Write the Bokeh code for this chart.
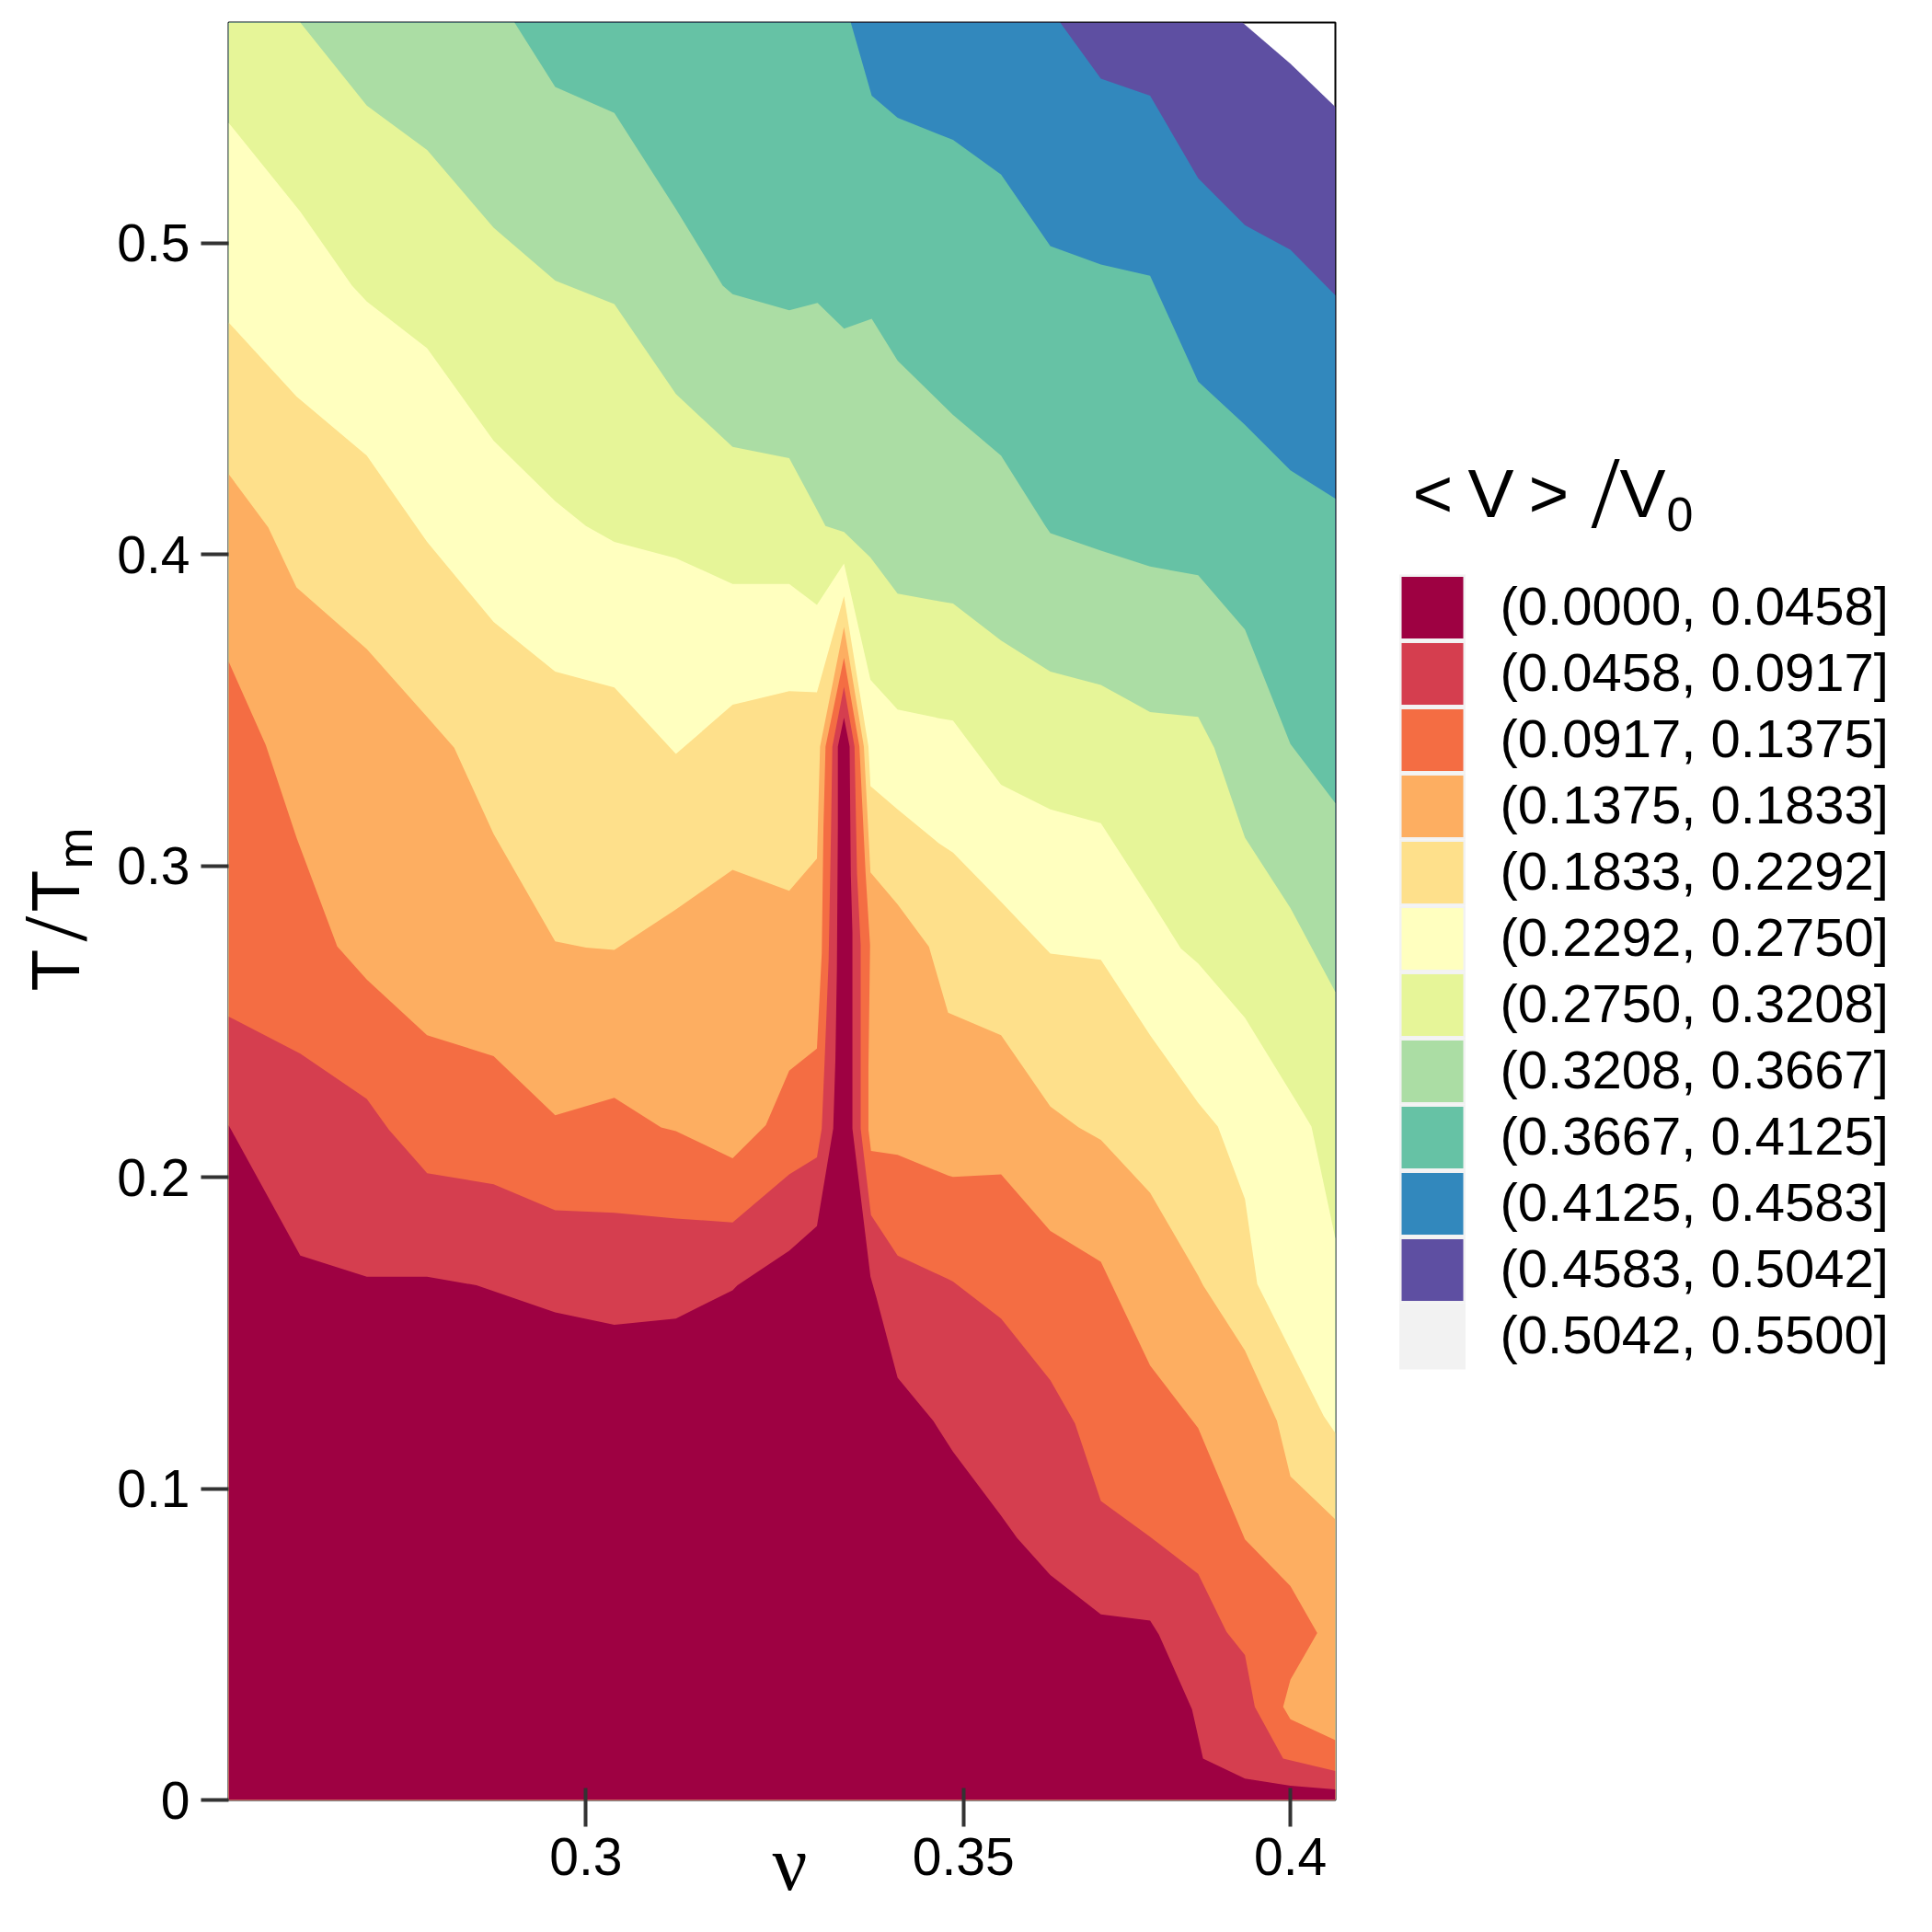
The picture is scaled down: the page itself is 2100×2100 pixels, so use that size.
import math

from bokeh.core.properties import value
from bokeh.embed import file_html
from bokeh.layouts import row
from bokeh.models import FixedTicker, Range1d
from bokeh.plotting import figure
from bokeh.resources import INLINE

# axis limits and ticks
nu_min, nu_max = 0.25926, 0.40741
t_min, t_max = 0.0, 0.5708
nu_ticks = [0.3, 0.35, 0.4]
nu_tick_labels = ["0.3", "0.35", "0.4"]
t_ticks = [0, 0.1, 0.2, 0.3, 0.4, 0.5]
t_tick_labels = ["0", "0.1", "0.2", "0.3", "0.4", "0.5"]

# contour bands
bands = ["(0.0000, 0.0458]", "(0.0458, 0.0917]", "(0.0917, 0.1375]", "(0.1375, 0.1833]",
         "(0.1833, 0.2292]", "(0.2292, 0.2750]", "(0.2750, 0.3208]", "(0.3208, 0.3667]",
         "(0.3667, 0.4125]", "(0.4125, 0.4583]", "(0.4583, 0.5042]", "(0.5042, 0.5500]"]
colors = ["#9E0142", "#D53E4F", "#F46D43", "#FDAE61", "#FEE08B", "#FFFFBF",
          "#E6F598", "#ABDDA4", "#66C2A5", "#3288BD", "#5E4FA2"]

# upper edge of every band
nu_0458 = [0.25926, 0.26696, 0.27431, 0.28115, 0.28687, 0.29625, 0.30349, 0.31122, 0.31851, 0.31915,
           0.32596, 0.32967, 0.33187, 0.33217, 0.33237, 0.33250, 0.33250, 0.33333, 0.33410, 0.33426,
           0.33448, 0.33448, 0.33448, 0.33696, 0.33778, 0.34071, 0.34572, 0.34851, 0.35542, 0.35775,
           0.36264, 0.37020, 0.37772, 0.37906, 0.38424, 0.38598, 0.39264, 0.40000, 0.40741]
t_0458 = [0.2167, 0.1748, 0.1680, 0.1680, 0.1653, 0.1566, 0.1526, 0.1546, 0.1637, 0.1653,
          0.1764, 0.1843, 0.2156, 0.2381, 0.2670, 0.3122, 0.3383, 0.3476, 0.3383, 0.2975,
          0.2785, 0.2354, 0.2156, 0.1680, 0.1613, 0.1356, 0.1217, 0.1118, 0.0913, 0.0841,
          0.0722, 0.0596, 0.0576, 0.0532, 0.0291, 0.0133, 0.0069, 0.0046, 0.0034]

nu_0917 = [0.25926, 0.26696, 0.27431, 0.27680, 0.28115, 0.28889, 0.29625, 0.30349, 0.31122, 0.31851,
           0.32596, 0.32967, 0.33032, 0.33072, 0.33125, 0.33158, 0.33175, 0.33333, 0.33477, 0.33511,
           0.33561, 0.33561, 0.33561, 0.33703, 0.34071, 0.34781, 0.34851, 0.35542, 0.36264, 0.36631,
           0.37020, 0.37772, 0.38521, 0.38969, 0.39264, 0.39422, 0.39881, 0.40741]
t_0917 = [0.2516, 0.2397, 0.2251, 0.2152, 0.2013, 0.1977, 0.1894, 0.1886, 0.1867, 0.1855,
          0.2009, 0.2064, 0.2156, 0.2381, 0.2698, 0.3122, 0.3383, 0.3575, 0.3383, 0.2975,
          0.2745, 0.2354, 0.2156, 0.1878, 0.1748, 0.1673, 0.1665, 0.1546, 0.1348, 0.1209,
          0.0960, 0.0845, 0.0726, 0.0540, 0.0465, 0.0299, 0.0133, 0.0093]

nu_1375 = [0.25926, 0.26323, 0.26655, 0.27102, 0.27431, 0.28115, 0.28889, 0.29625, 0.30349, 0.30935,
           0.31122, 0.31851, 0.32286, 0.32596, 0.32967, 0.33032, 0.33055, 0.33083, 0.33333, 0.33544,
           0.33629, 0.33690, 0.33668, 0.33668, 0.33703, 0.34071, 0.34781, 0.34851, 0.35542, 0.36264,
           0.37020, 0.37772, 0.38521, 0.39264, 0.40000, 0.40440, 0.40000, 0.39881, 0.40000, 0.40741]
t_1375 = [0.3656, 0.3387, 0.3090, 0.2741, 0.2635, 0.2456, 0.2389, 0.2199, 0.2255, 0.2160,
          0.2148, 0.2061, 0.2167, 0.2342, 0.2413, 0.2718, 0.3122, 0.3383, 0.3668, 0.3383,
          0.2975, 0.2745, 0.2354, 0.2152, 0.2084, 0.2072, 0.2005, 0.2001, 0.2009, 0.1827,
          0.1728, 0.1395, 0.1194, 0.0837, 0.0687, 0.0536, 0.0386, 0.0299, 0.0259, 0.0192]

nu_1833 = [0.25926, 0.26349, 0.26655, 0.27431, 0.28115, 0.28428, 0.28889, 0.29625, 0.30000, 0.30349,
           0.31122, 0.31851, 0.32596, 0.32967, 0.33009, 0.33333, 0.33605, 0.33696, 0.34071, 0.34510,
           0.34781, 0.35542, 0.36264, 0.36687, 0.37020, 0.37772, 0.38521, 0.38598, 0.39264, 0.39781,
           0.40000, 0.40741]
t_1833 = [0.4258, 0.4087, 0.3894, 0.3696, 0.3478, 0.3379, 0.3102, 0.2757, 0.2737, 0.2730,
          0.2860, 0.2987, 0.2920, 0.3023, 0.3383, 0.3767, 0.3383, 0.2979, 0.2876, 0.2740,
          0.2528, 0.2456, 0.2227, 0.2160, 0.2120, 0.1950, 0.1684, 0.1653, 0.1443, 0.1217,
          0.1039, 0.0901]

nu_2292 = [0.25926, 0.26655, 0.27431, 0.28115, 0.28889, 0.29625, 0.30349, 0.31122, 0.31851, 0.32596,
           0.32967, 0.33333, 0.33668, 0.33696, 0.34071, 0.34652, 0.34851, 0.35542, 0.36264, 0.37020,
           0.37772, 0.38521, 0.38832, 0.39264, 0.39462, 0.40548, 0.40741]
t_2292 = [0.4745, 0.4507, 0.4317, 0.4040, 0.3783, 0.3624, 0.3573, 0.3359, 0.3517, 0.3561,
          0.3557, 0.3866, 0.3383, 0.3256, 0.3181, 0.3072, 0.3042, 0.2884, 0.2718, 0.2698,
          0.2456, 0.2239, 0.2163, 0.1930, 0.1657, 0.1233, 0.1178]

nu_2750 = [0.25926, 0.26696, 0.27266, 0.27431, 0.28115, 0.28889, 0.29625, 0.30000, 0.30349, 0.31122,
           0.31851, 0.32596, 0.32967, 0.33333, 0.33696, 0.34071, 0.34652, 0.34851, 0.35542, 0.36264,
           0.37020, 0.37772, 0.38250, 0.38521, 0.39264, 0.40122, 0.40345, 0.40741]
t_2750 = [0.5386, 0.5101, 0.4863, 0.4812, 0.4662, 0.4365, 0.4171, 0.4091, 0.4040, 0.3988,
          0.3905, 0.3905, 0.3838, 0.3971, 0.3597, 0.3502, 0.3474, 0.3466, 0.3260, 0.3181,
          0.3137, 0.2892, 0.2734, 0.2686, 0.2512, 0.2235, 0.2163, 0.1803]

nu_3208 = [0.25926, 0.26696, 0.27431, 0.28115, 0.28889, 0.29625, 0.30349, 0.31122, 0.31851, 0.32596,
           0.32942, 0.33083, 0.33334, 0.33696, 0.34071, 0.34652, 0.34851, 0.35542, 0.36264, 0.37020,
           0.37772, 0.38521, 0.38774, 0.39264, 0.40000, 0.40741]
t_3208 = [0.5708, 0.5708, 0.5441, 0.5299, 0.5049, 0.4879, 0.4804, 0.4515, 0.4345, 0.4309,
          0.4155, 0.4091, 0.4072, 0.3990, 0.3874, 0.3850, 0.3842, 0.3723, 0.3624, 0.3581,
          0.3494, 0.3478, 0.3379, 0.3090, 0.2864, 0.2595]

nu_3667 = [0.25926, 0.29137, 0.29625, 0.30349, 0.31122, 0.31723, 0.31851, 0.32596, 0.32975, 0.33334,
           0.33713, 0.34071, 0.34851, 0.35542, 0.36191, 0.36264, 0.37020, 0.37772, 0.38521, 0.39264,
           0.40000, 0.40741]
t_3667 = [0.5708, 0.5708, 0.5501, 0.5418, 0.5109, 0.4863, 0.4836, 0.4784, 0.4808, 0.4725,
          0.4757, 0.4622, 0.4448, 0.4317, 0.4091, 0.4068, 0.4012, 0.3961, 0.3933, 0.3759,
          0.3391, 0.3201]

nu_4125 = [0.25926, 0.33426, 0.33713, 0.34071, 0.34851, 0.35542, 0.36264, 0.37020, 0.37772, 0.38521,
           0.39264, 0.40000, 0.40741]
t_4125 = [0.5708, 0.5708, 0.5473, 0.5402, 0.5331, 0.5220, 0.4990, 0.4931, 0.4895, 0.4555,
          0.4416, 0.4270, 0.4179]

nu_4583 = [0.25926, 0.36410, 0.37020, 0.37772, 0.38521, 0.39264, 0.40000, 0.40741]
t_4583 = [0.5708, 0.5708, 0.5528, 0.5473, 0.5208, 0.5057, 0.4978, 0.4832]

nu_5042 = [0.25926, 0.39224, 0.40000, 0.40741]
t_5042 = [0.5708, 0.5708, 0.5576, 0.5437]

band_nu = [nu_0458, nu_0917, nu_1375, nu_1833, nu_2292, nu_2750, nu_3208, nu_3667, nu_4125, nu_4583, nu_5042]
band_t = [t_0458, t_0917, t_1375, t_1833, t_2292, t_2750, t_3208, t_3667, t_4125, t_4583, t_5042]

FONT = "Liberation Sans"
SERIF = "Liberation Serif"
HEIGHT = 2084
LEFT_W = 120
RIGHT_X = 1500
PAGE_W = 2084
FRAME_TOP = 24
FRAME_BOTTOM = 1956
# text glyphs land this many ems past the wanted baseline
BASELINE_SHIFT = 0.36


# plain figure without axes, its ranges count in page pixels
# the row lines its frame up with the main panel, so y only spans the panel
def get_side_figure(x_start, x_end):
    side = figure(width=x_end - x_start, height=HEIGHT, output_backend="svg", toolbar_location=None,
                  x_range=Range1d(x_start, x_end), y_range=Range1d(FRAME_BOTTOM, FRAME_TOP),
                  x_axis_location=None, y_axis_location=None, min_border=0)
    side.grid.visible = False
    side.outline_line_color = None
    return side


def add_text(plot, text, x, y, size, angle=0.0, font=FONT):
    if angle:
        x -= BASELINE_SHIFT * size
    else:
        y -= BASELINE_SHIFT * size
    plot.text(x=[x], y=[y], text=[text], angle=[angle], text_font=value(font), text_font_size=f"{size}px",
              text_color="black", text_align="left", text_baseline="alphabetic")


# main panel with the filled contours
def get_main_figure():
    plot = figure(width=RIGHT_X - LEFT_W, height=HEIGHT, x_axis_type="log", output_backend="svg",
                  toolbar_location=None, x_range=Range1d(nu_min, nu_max), y_range=Range1d(t_min, t_max),
                  min_border_left=248 - LEFT_W, min_border_right=RIGHT_X - 1451,
                  min_border_top=FRAME_TOP, min_border_bottom=HEIGHT - FRAME_BOTTOM)
    plot.grid.visible = False
    plot.outline_line_color = "black"
    plot.outline_line_width = 2
    plot.outline_line_alpha = 1
    return plot


def configure_axes(plot):
    plot.xaxis.ticker = FixedTicker(ticks=nu_ticks)
    plot.xaxis.major_label_overrides = dict(zip(nu_ticks, nu_tick_labels))
    plot.yaxis.ticker = FixedTicker(ticks=t_ticks)
    plot.yaxis.major_label_overrides = dict(zip(t_ticks, t_tick_labels))
    plot.axis.axis_line_color = None
    plot.axis.minor_tick_line_color = None
    plot.axis.major_tick_line_color = "#333333"
    plot.axis.major_tick_line_width = 4
    plot.axis.major_label_text_font = FONT
    plot.axis.major_label_text_font_size = "57px"
    plot.axis.major_label_text_color = "black"
    plot.axis.major_label_standoff = 12
    plot.xaxis.major_tick_in = 13
    plot.xaxis.major_tick_out = 29
    plot.yaxis.major_tick_in = 0
    plot.yaxis.major_tick_out = 30
    # thin space in front: the reference sits a little right of the centre
    plot.xaxis.axis_label = "\u2009ν"
    plot.xaxis.axis_label_text_font = SERIF
    plot.xaxis.axis_label_text_font_style = "normal"
    plot.xaxis.axis_label_text_font_size = "84px"
    plot.xaxis.axis_label_text_color = "black"
    plot.xaxis.axis_label_standoff = -62


# every band is filled down to T = 0, the lower bands paint over the upper ones
def draw_bands(plot):
    for nu, t, color in reversed(list(zip(band_nu, band_t, colors))):
        xs = nu + [nu_max, nu_min]
        ys = t + [t_min, t_min]
        plot.patch(xs, ys, fill_color=color, line_color=None)


def get_legend_figure():
    side = get_side_figure(RIGHT_X, PAGE_W)
    key = 72
    top = 624
    left = 1520.5
    for i, band in enumerate(bands):
        y = top + i * key
        side.quad(left=[left], right=[left + key], top=[y], bottom=[y + key], fill_color="#F2F2F2", line_color=None)
        if i < len(colors):
            side.quad(left=[left + 2.5], right=[left + key - 2.5], top=[y + 2.5], bottom=[y + key - 2.5],
                      fill_color=colors[i], line_color=None)
        add_text(side, band, 1630, y + 55, 58)

    add_text(side, "<", 1535, 562, 75)
    add_text(side, "V", 1595, 562, 75)
    add_text(side, ">", 1661, 562, 75)
    add_text(side, "/", 1729, 575, 112, font=SERIF)
    add_text(side, "V", 1760, 562, 75)
    add_text(side, "0", 1811, 577, 52)
    return side


def get_title_figure():
    side = get_side_figure(0, LEFT_W)
    up = math.pi / 2
    add_text(side, "T", 86, 1077, 75, up)
    add_text(side, "/", 95, 1023, 100, up, font=SERIF)
    add_text(side, "T", 86, 991, 75, up)
    add_text(side, "m", 100, 944, 54, up)
    return side


p = get_main_figure()
configure_axes(p)
draw_bands(p)

page = row(get_title_figure(), p, get_legend_figure(), spacing=0)

open("out.html", "w").write(file_html(page, INLINE))
